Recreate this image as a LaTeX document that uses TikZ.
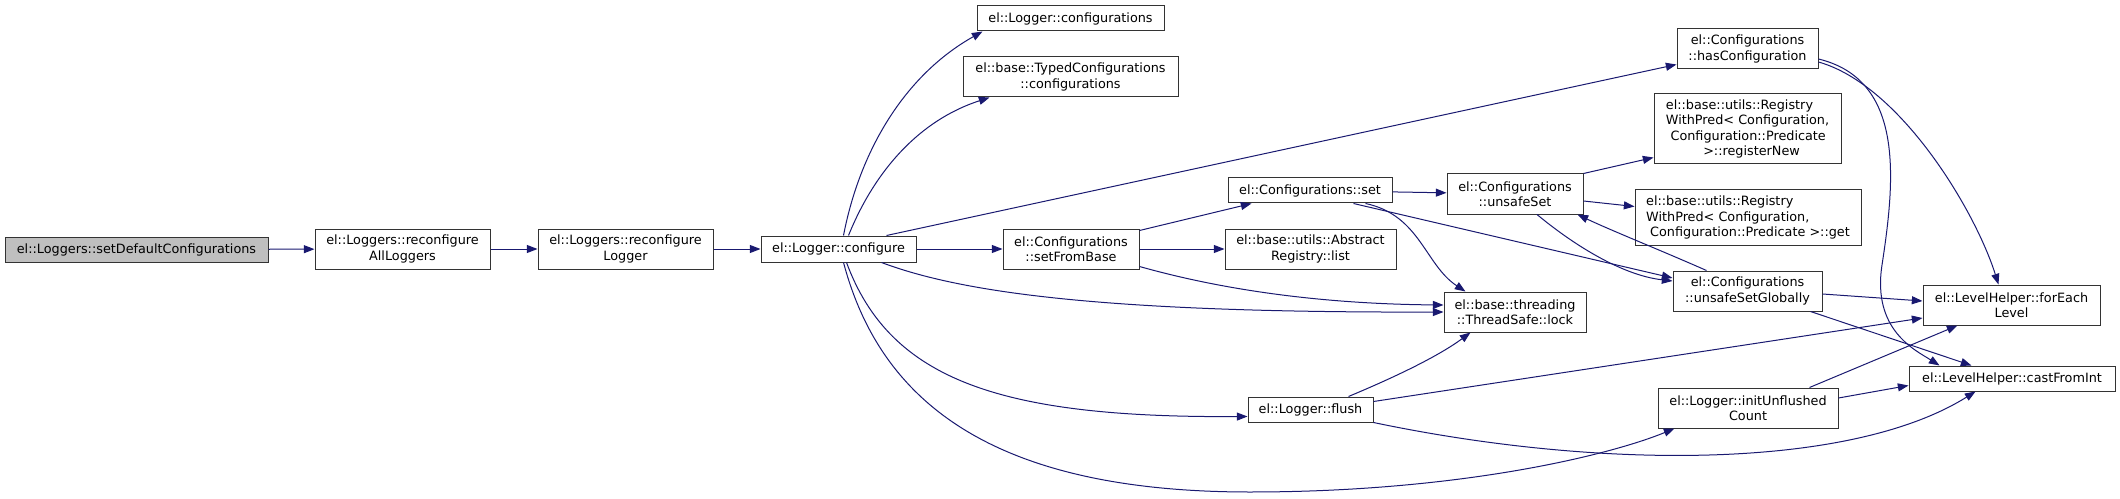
\documentclass[tikz,border=0pt]{standalone}
\usepackage{fontspec}
\setmainfont{DejaVu Sans}
\usetikzlibrary{arrows.meta,calc}
\definecolor{edgeblue}{HTML}{191970}
\definecolor{rootgray}{HTML}{BFBFBF}

\begin{document}
\begin{tikzpicture}[
  x=0.75pt, y=-0.75pt,
  font=\fontsize{9.6}{11.5}\selectfont,
  >={Triangle[length=8pt,width=6pt]},
  fn/.style={draw=black!80, fill=white, align=center, inner sep=2pt, minimum height=18.75pt, line width=0.75pt},
  root/.style={fn, fill=rootgray},
  twoline/.style={minimum height=30pt},
  call/.style={->, draw=edgeblue, line width=0.75pt}
]
\useasboundingbox (0,0) rectangle (2120,499);

% left chain
\node[root, minimum width=197.25pt] (sdc) at (136.5,249.5) {el::Loggers::setDefaultConfigurations};
\node[fn, twoline, minimum width=131.25pt] (rall) at (402.5,249) {el::Loggers::reconfigure\\AllLoggers};
\node[fn, twoline, minimum width=131.25pt] (rlog) at (625.5,249) {el::Loggers::reconfigure\\Logger};
\node[fn, minimum width=116.25pt, minimum height=19.5pt] (cfg) at (838.5,249) {el::Logger::configure};

% callees of configure
\node[fn, minimum width=140.25pt] (lcfgs) at (1070.5,18.5) {el::Logger::configurations};
\node[fn, twoline, minimum width=161.25pt] (tcfgs) at (1070.5,77) {el::base::TypedConfigurations\\::configurations};
\node[fn, twoline, minimum width=102pt] (sfb) at (1071,249) {el::Configurations\\::setFromBase};
\node[fn, minimum width=123pt] (cset) at (1310,190.5) {el::Configurations::set};
\node[fn, twoline, minimum width=128.25pt] (alist) at (1310.5,249) {el::base::utils::Abstract\\Registry::list};
\node[fn, minimum width=93.75pt] (flush) at (1310.5,409.5) {el::Logger::flush};
\node[fn, twoline, minimum width=106.5pt] (lock) at (1515,312) {el::base::threading\\::ThreadSafe::lock};
\node[fn, twoline, minimum width=102pt] (uset) at (1515,194) {el::Configurations\\::unsafeSet};

% right columns
\node[fn, twoline, minimum width=105.75pt] (hascfg) at (1747.5,49) {el::Configurations\\::hasConfiguration};
\node[fn, align=left, minimum width=140.25pt, minimum height=52.5pt] (regnew) at (1747.5,129)
  {el::base::utils::Registry\\WithPred< Configuration,\\\hspace{3.5pt}Configuration::Predicate\\\hspace{28pt}>::registerNew};
\node[fn, align=left, minimum width=169.5pt, minimum height=41.25pt] (regget) at (1748,217.5)
  {el::base::utils::Registry\\WithPred< Configuration,\\\hspace{3pt}Configuration::Predicate >::get};
\node[fn, twoline, minimum width=111.75pt] (usetg) at (1747.5,291) {el::Configurations\\::unsafeSetGlobally};
\node[fn, twoline, minimum width=135pt] (iuc) at (1748,408) {el::Logger::initUnflushed\\Count};
\node[fn, twoline, minimum width=132.75pt] (fel) at (2011.5,305) {el::LevelHelper::forEach\\Level};
\node[fn, minimum width=154.5pt] (cfi) at (2012,378.5) {el::LevelHelper::castFromInt};

% calls
\draw[call] (sdc) -- (rall);
\draw[call] (rall) -- (rlog);
\draw[call] (rlog) -- (cfg);
\draw[call] ($(cfg.north)+(5,0)$) .. controls (860,150) and (905,75) .. ($(lcfgs.south west)+(6,0)$);
\draw[call] ($(cfg.north)+(10,0)$) .. controls (875,170) and (920,120) .. ($(tcfgs.south west)+(27,0)$);
\draw[call] ($(cfg.north)+(48,0)$) -- ($(hascfg.south west)+(0,-5)$);
\draw[call] (cfg) -- (sfb);
\draw[call] ($(cfg.south east)+(-35,0)$) .. controls (960,292) and (1100,313) .. (lock.west);
\draw[call] ($(cfg.south)+(8,0)$) .. controls (890,380) and (1000,418) .. ($(flush.west)+(0,7)$);
\draw[call] ($(cfg.south)+(5,0)$) .. controls (880,400) and (990,492) .. (1250,492)
  .. controls (1460,492) and (1610,455) .. ($(iuc.south west)+(17,0)$);

\draw[call] ($(sfb.north east)+(0,2)$) -- ($(cset.south west)+(24,0)$);
\draw[call] (sfb) -- (alist);
\draw[call] ($(sfb.south east)+(0,-3)$) .. controls (1230,292) and (1330,304) .. ($(lock.west)+(0,-7)$);

\draw[call] (cset) -- (uset);
\draw[call] ($(cset.south east)+(-27,0)$) .. controls (1420,215) and (1425,265) .. ($(lock.north west)+(22,0)$);
\draw[call] ($(cset.south east)+(-39,0)$) -- ($(usetg.west)+(0,-13)$);

\draw[call] (uset.north east) -- ($(regnew.south west)+(0,-7)$);
\draw[call] ($(uset.east)+(0,7)$) -- ($(regget.west)+(0,-11)$);
\draw[call] ($(uset.south)+(22,0)$) .. controls (1570,242) and (1620,275) .. ($(usetg.west)+(0,-10)$);
\draw[call] ($(usetg.north west)+(34,0)$) .. controls (1660,250) and (1610,230) .. ($(uset.south east)+(-6,0)$);

\draw[call] ($(hascfg.east)+(0,13)$) .. controls (1900,85) and (1975,210) .. ($(fel.north west)+(76,0)$);
\draw[call] ($(hascfg.east)+(0,10)$) .. controls (1905,80) and (1895,180) .. (1882,265)
  .. controls (1872,330) and (1915,350) .. ($(cfi.north west)+(31,0)$);

\draw[call] ($(usetg.east)+(0,3)$) -- ($(fel.west)+(0,-4)$);
\draw[call] ($(usetg.south east)+(-12,0)$) -- ($(cfi.north west)+(63,0)$);

\draw[call] ($(flush.north)+(38,0)$) .. controls (1400,375) and (1440,355) .. ($(lock.south west)+(27,0)$);
\draw[call] ($(flush.east)+(0,-8)$) -- ($(fel.west)+(0,13)$);
\draw[call] (flush.south east) .. controls (1600,470) and (1850,470) .. ($(cfi.south west)+(67,0)$);

\draw[call] ($(iuc.north east)+(-29,0)$) -- ($(fel.south west)+(35,0)$);
\draw[call] ($(iuc.east)+(0,-10)$) -- ($(cfi.west)+(0,7)$);

\end{tikzpicture}
\end{document}
